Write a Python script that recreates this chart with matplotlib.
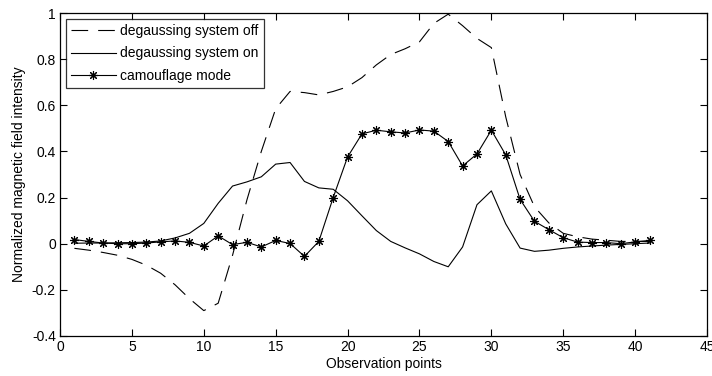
import numpy as np
import matplotlib.pyplot as plt

plt.rcParams['font.family'] = ['Liberation Sans', 'DejaVu Sans']

# Observation points 1..41
points = list(range(1, 42))

# degaussing system off (dashed)
off_vals = [-0.020, -0.028, -0.038, -0.050, -0.068, -0.093, -0.128, -0.178, -0.238, -0.290,
            -0.258, -0.050, 0.190, 0.400, 0.585, 0.660, 0.655, 0.645, 0.660, 0.680,
            0.720, 0.775, 0.820, 0.845, 0.875, 0.955, 0.995, 0.945, 0.890, 0.850,
            0.550, 0.300, 0.160, 0.090, 0.045, 0.030, 0.020, 0.015, 0.010, 0.010, 0.010]

# degaussing system on (solid)
on_vals = [0.002, 0.003, 0.003, 0.004, 0.005, 0.007, 0.012, 0.025, 0.045, 0.088,
           0.175, 0.250, 0.268, 0.290, 0.345, 0.352, 0.270, 0.242, 0.236, 0.186,
           0.121, 0.057, 0.010, -0.018, -0.044, -0.077, -0.100, -0.014, 0.169, 0.229,
           0.086, -0.019, -0.033, -0.028, -0.020, -0.014, -0.010, -0.006, -0.003, 0.000, 0.003]

# camouflage mode (asterisks)
camo_vals = [0.018, 0.010, 0.003, 0.000, 0.000, 0.003, 0.008, 0.012, 0.006, -0.010,
             0.034, -0.004, 0.006, -0.014, 0.014, 0.001, -0.055, 0.010, 0.200, 0.376,
             0.476, 0.492, 0.485, 0.480, 0.493, 0.488, 0.443, 0.337, 0.389, 0.492,
             0.385, 0.192, 0.097, 0.061, 0.026, 0.007, 0.005, 0.005, 0.000, 0.008, 0.014]

fig = plt.figure(figsize=(7.12, 3.76), dpi=100)
ax = fig.add_axes([0.0843, 0.1064, 0.9087, 0.859])

ax.plot(points, off_vals, color='black', lw=0.8, linestyle=(0, (15, 9)),
        label='degaussing system off')
ax.plot(points, on_vals, color='black', lw=0.8, label='degaussing system on')
ax.plot(points, camo_vals, color='black', lw=0.8, marker=(8, 2, 0), markersize=6.5,
        markeredgewidth=0.8, label='camouflage mode')

ax.set_xlim(0, 45)
ax.set_ylim(-0.4, 1.0)
ax.set_xticks(np.arange(0, 46, 5))
ax.set_yticks([-0.4, -0.2, 0, 0.2, 0.4, 0.6, 0.8, 1])
ax.set_yticklabels(['-0.4', '-0.2', '0', '0.2', '0.4', '0.6', '0.8', '1'])
ax.tick_params(direction='in', top=True, right=True, length=5, width=0.8,
               labelsize=10, pad=3)
for s in ax.spines.values():
    s.set_linewidth(0.9)

ax.set_xlabel('Observation points', fontsize=10, labelpad=2)
ax.set_ylabel('Normalized magnetic field intensity', fontsize=10, labelpad=4)

leg = ax.legend(loc='upper left', fontsize=10, handlelength=3.2, frameon=True,
                fancybox=False, edgecolor='black', borderaxespad=0.4,
                labelspacing=0.6, handletextpad=0.35, borderpad=0.4)
leg.get_frame().set_linewidth(0.9)

fig.savefig('out.png', dpi=100)
